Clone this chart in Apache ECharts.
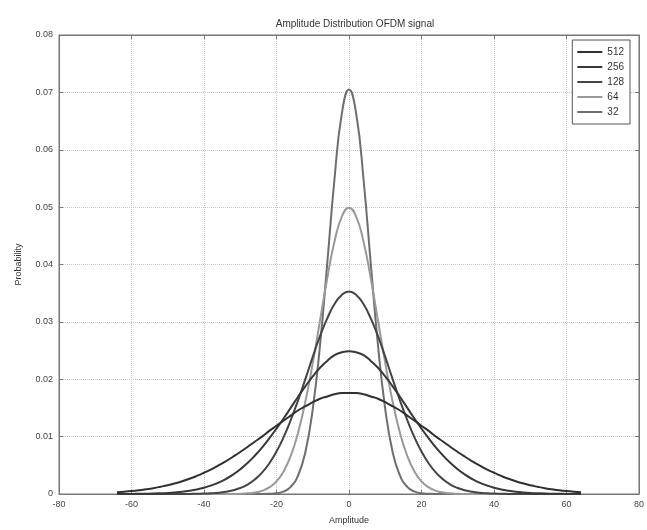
<!DOCTYPE html>
<html>
<head>
<meta charset="utf-8">
<script src="https://cdn.jsdelivr.net/npm/echarts@6/dist/echarts.min.js"></script>
<style>html,body{margin:0;padding:0;background:#fff;}#c{width:647px;height:530px;}</style>
</head>
<body>
<div id="c"></div>
<script>
var amplitude = [-64,-62,-60,-58,-56,-54,-52,-50,-48,-46,-44,-42,-40,-38,-36,-34,-32,-30,-28,-26,-24,-22,-20,-18,-16,-14,-12,-10,-8,-6,-4,-2,0,2,4,6,8,10,12,14,16,18,20,22,24,26,28,30,32,34,36,38,40,42,44,46,48,50,52,54,56,58,60,62,64];

var p512 = [0.00032,0.00041,0.00052,0.00066,0.00083,0.00102,0.00126,0.00153,0.00186,0.00223,0.00266,0.00315,0.00370,0.00430,0.00497,0.00570,0.00649,0.00732,0.00820,0.00911,0.0100,0.0110,0.0119,0.0128,0.0137,0.0146,0.0153,0.0160,0.0166,0.0170,0.0174,0.0176,0.0176,0.0176,0.0174,0.0170,0.0166,0.0160,0.0153,0.0146,0.0137,0.0128,0.0119,0.0110,0.0100,0.00911,0.00820,0.00732,0.00649,0.00570,0.00497,0.00430,0.00370,0.00315,0.00266,0.00223,0.00186,0.00153,0.00126,0.00102,0.00083,0.00066,0.00052,0.00041,0.00032];

var p256 = [0,0.00001,0.00002,0.00003,0.00005,0.00008,0.00013,0.00019,0.00028,0.00040,0.00057,0.00079,0.00109,0.00149,0.00198,0.00261,0.00337,0.00430,0.00539,0.00666,0.00809,0.00969,0.0114,0.0132,0.0151,0.0170,0.0188,0.0205,0.0220,0.0232,0.0242,0.0247,0.0249,0.0247,0.0242,0.0232,0.0220,0.0205,0.0188,0.0170,0.0151,0.0132,0.0114,0.00969,0.00809,0.00666,0.00539,0.00430,0.00337,0.00261,0.00198,0.00149,0.00109,0.00079,0.00057,0.00040,0.00028,0.00019,0.00013,0.00008,0.00005,0.00003,0.00002,0.00001,0];

var p128 = [0,0,0,0,0,0,0,0,0,0,0.00002,0.00004,0.00007,0.00013,0.00022,0.00039,0.00065,0.00105,0.00165,0.00252,0.00372,0.00532,0.00739,0.00995,0.0130,0.0164,0.0201,0.0239,0.0275,0.0306,0.0331,0.0347,0.0353,0.0347,0.0331,0.0306,0.0275,0.0239,0.0201,0.0164,0.0130,0.00995,0.00739,0.00532,0.00372,0.00252,0.00165,0.00105,0.00065,0.00039,0.00022,0.00013,0.00007,0.00004,0.00002,0,0,0,0,0,0,0,0,0,0];

var p64 = [0,0,0,0,0,0,0,0,0,0,0,0,0,0,0,0,0,0.00004,0.00011,0.00025,0.00055,0.00114,0.00219,0.00397,0.00675,0.0108,0.0162,0.0228,0.0302,0.0376,0.0440,0.0483,0.0499,0.0483,0.0440,0.0376,0.0302,0.0228,0.0162,0.0108,0.00675,0.00397,0.00219,0.00114,0.00055,0.00025,0.00011,0.00004,0,0,0,0,0,0,0,0,0,0,0,0,0,0,0,0,0];

var p32 = [0,0,0,0,0,0,0,0,0,0,0,0,0,0,0,0,0,0,0,0,0,0.00004,0.00014,0.00045,0.0013,0.0033,0.0074,0.0148,0.0259,0.0402,0.0549,0.0662,0.0705,0.0662,0.0549,0.0402,0.0259,0.0148,0.0074,0.0033,0.0013,0.00045,0.00014,0.00004,0,0,0,0,0,0,0,0,0,0,0,0,0,0,0,0,0,0,0,0,0];

var seriesNames = ['512','256','128','64','32'];
var seriesColors = ['#303030','#383838','#444444','#999999','#6e6e6e'];
var seriesValues = [p512, p256, p128, p64, p32];

var xTicks = [-80,-60,-40,-20,0,20,40,60,80];
var yTicks = [0,0.01,0.02,0.03,0.04,0.05,0.06,0.07,0.08];

var font = 'Liberation Sans, Arial, sans-serif';
var chart = echarts.init(document.getElementById('c'));

var series = seriesNames.map(function(n, i){
  return {
    name: n, type: 'line', showSymbol: false, smooth: true,
    lineStyle: {color: seriesColors[i], width: 2},
    itemStyle: {color: seriesColors[i]},
    data: amplitude.map(function(a, j){ return [a, seriesValues[i][j]]; }),
    z: 10 - i
  };
});

chart.setOption({
  animation: false,
  backgroundColor: '#fff',
  title: {
    text: 'Amplitude Distribution OFDM signal', left: 350, top: 14, textAlign: 'center',
    textStyle: {fontSize: 10, fontWeight: 'normal', color: '#333', fontFamily: font}
  },
  legend: {
    data: seriesNames, orient: 'vertical', right: 17, top: 40,
    icon: 'rect', itemWidth: 25, itemHeight: 2, itemGap: 3,
    padding: [6, 6, 6, 5], borderColor: '#555', borderWidth: 1, backgroundColor: '#fff',
    textStyle: {fontSize: 10, color: '#333', fontFamily: font, lineHeight: 12}
  },
  grid: {left: 59, right: 6, top: 35, bottom: 35, show: true, borderColor: '#777', borderWidth: 1},
  xAxis: [{
    type: 'value', min: -80, max: 80, interval: 20,
    name: 'Amplitude', nameLocation: 'middle', nameGap: 22,
    nameTextStyle: {fontSize: 9, color: '#333', fontFamily: font},
    axisLine: {show: true, onZero: false, lineStyle: {color: '#777'}},
    axisTick: {show: true, inside: true, length: 4, lineStyle: {color: '#777'}},
    axisLabel: {fontSize: 9, color: '#444', margin: 6, fontFamily: font,
      formatter: function(v){ return xTicks.indexOf(v) >= 0 ? String(v) : ''; }},
    splitLine: {show: true, lineStyle: {color: '#c8c8c8', type: 'dotted', width: 1}}
  }, {
    type: 'value', min: -80, max: 80, interval: 20, position: 'top',
    axisLine: {show: true, onZero: false, lineStyle: {color: '#777'}},
    axisTick: {show: true, inside: true, length: 4, lineStyle: {color: '#777'}},
    axisLabel: {show: false}, splitLine: {show: false}
  }],
  yAxis: [{
    type: 'value', min: 0, max: 0.08, interval: 0.01,
    name: 'Probability', nameLocation: 'middle', nameGap: 36,
    nameTextStyle: {fontSize: 9, color: '#333', fontFamily: font},
    axisLine: {show: true, onZero: false, lineStyle: {color: '#777'}},
    axisTick: {show: true, inside: true, length: 4, lineStyle: {color: '#777'}},
    axisLabel: {fontSize: 9, color: '#444', margin: 6, fontFamily: font,
      formatter: function(v){ var r = Math.round(v*100)/100; return r === 0 ? '0' : r.toFixed(2); }},
    splitLine: {show: true, lineStyle: {color: '#c8c8c8', type: 'dotted', width: 1}}
  }, {
    type: 'value', min: 0, max: 0.08, interval: 0.01, position: 'right',
    axisLine: {show: true, onZero: false, lineStyle: {color: '#777'}},
    axisTick: {show: true, inside: true, length: 4, lineStyle: {color: '#777'}},
    axisLabel: {show: false}, splitLine: {show: false}
  }],
  series: series
});
</script>
</body>
</html>
